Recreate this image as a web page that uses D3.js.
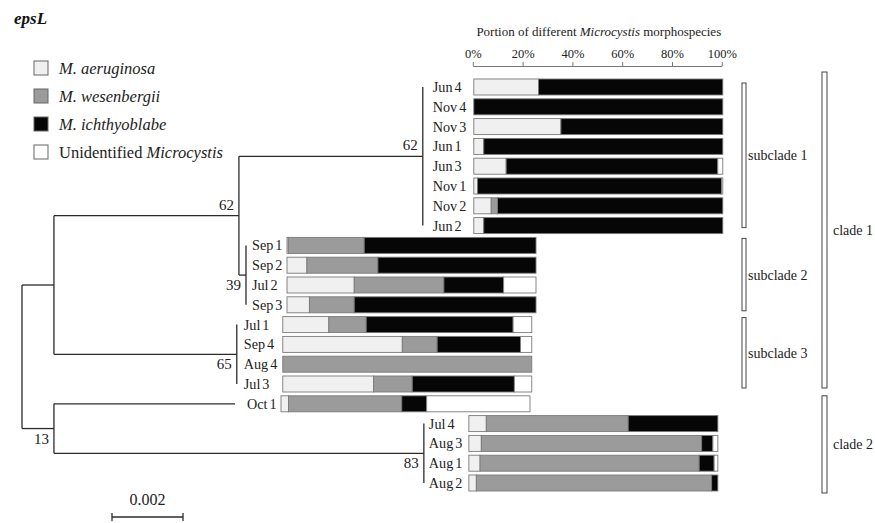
<!DOCTYPE html>
<html>
<head>
<meta charset="utf-8">
<script src="https://cdn.jsdelivr.net/npm/d3@7"></script>
<style>
body { margin: 0; background: #fff; }
svg { font-family: "Liberation Serif", "Times New Roman", serif; }
</style>
</head>
<body>
<svg id="chart" width="875" height="523"></svg>
<script>
// leaf order, top to bottom
var leaves = ['Jun 4','Nov 4','Nov 3','Jun 1','Jun 3','Nov 1','Nov 2','Jun 2',
	'Sep 1','Sep 2','Jul 2','Sep 3',
	'Jul 1','Sep 4','Aug 4','Jul 3',
	'Oct 1',
	'Jul 4','Aug 3','Aug 1','Aug 2'];

// portion (%) of each morphospecies per sample
var aeruginosa   = [26, 0, 35, 4, 13, 1.5, 7, 4,   0.5, 8, 27, 9,   18.5, 48, 0, 36.5,  3,   7, 5, 4.5, 3];
var wesenbergii  = [0, 0, 0, 0, 0, 0, 2.5, 0,      30.5, 28.5, 36, 18,  15, 14, 100, 15.5,  45.5,  57, 88.5, 88, 94.5];
var ichthyoblabe = [74, 100, 65, 96, 85, 98, 90.5, 96,  69, 63.5, 24, 73,  59, 33.5, 0, 41,  10,  36, 4.5, 6, 2.5];
var unidentified = [0, 0, 0, 0, 2, 0.5, 0, 0,      0, 0, 13, 0,   7.5, 4.5, 0, 7,  41.5,  0, 2, 1.5, 0];

var speciesNames = ['M. aeruginosa', 'M. wesenbergii', 'M. ichthyoblabe', 'Unidentified Microcystis'];
var speciesColors = ['#f0f0f0', '#9b9b9b', '#060606', '#ffffff'];
var percentTicks = [0, 20, 40, 60, 80, 100];

// branch lengths (substitutions/site) and bootstrap support
function tips(a, b) {
	return leaves.slice(a, b).map(function(n) { return {name: n, len: 0}; });
}
var tree = {len: 0, children: [
	{len: 0.0009, children: [
		{len: 0.00521, support: 62, labelPos: 'above', children: [
			{len: 0.00518, support: 62, labelPos: 'above', children: tips(0, 8)},
			{len: 0.0002, support: 39, children: tips(8, 12)}
		]},
		{len: 0.00515, support: 65, children: tips(12, 16)}
	]},
	{len: 0.0009, support: 13, children: [
		{len: 0.0051, name: 'Oct 1'},
		{len: 0.01042, support: 83, children: tips(17, 21)}
	]}
]};

// label / bar offsets from the node line, per group (px)
var groupGaps = {
	'Jun 4': {label: 10, bar: 51},
	'Sep 1': {label: 6, bar: 41},
	'Jul 1': {label: 7, bar: 46},
	'Oct 1': {label: 12, bar: 46},
	'Jul 4': {label: 5, bar: 45}
};

var brackets = [
	{name: 'subclade 1', first: 'Jun 4', last: 'Jun 2', x: 742, w: 4, tx: 748, padTop: 4, padBot: 2},
	{name: 'subclade 2', first: 'Sep 1', last: 'Sep 3', x: 742, w: 4, tx: 748, padTop: 7, padBot: 6},
	{name: 'subclade 3', first: 'Jul 1', last: 'Jul 3', x: 742, w: 4, tx: 748, padTop: 7, padBot: 4},
	{name: 'clade 1', first: 'Jun 4', last: 'Jul 3', x: 822, w: 5, tx: 833, padTop: 15, padBot: 4},
	{name: 'clade 2', first: 'Oct 1', last: 'Aug 2', x: 822, w: 5, tx: 833, padTop: 8, padBot: 10}
];

var svg = d3.select('#chart');
var lineColor = '#2b2b2b';

var y = d3.scalePoint().domain(leaves).range([87, 483]);
var xTree = d3.scaleLinear().domain([0, 0.002]).range([0, 71]);
var treeLeft = 22;
var xPct = d3.scaleLinear().domain([0, 100]).range([0, 249]);
var barH = 16;

// ---- tree layout
var root = d3.hierarchy(tree);
root.eachBefore(function(d) {
	d.dist = d.parent ? d.parent.dist + d.data.len : 0;
	d.px = treeLeft + xTree(d.dist);
});
root.eachAfter(function(d) {
	if (d.children) {
		d.py = (d.children[0].py + d.children[d.children.length - 1].py) / 2;
	} else {
		d.py = y(d.data.name);
	}
});

var gTree = svg.append('g').attr('stroke', lineColor).attr('stroke-width', 1.3).attr('fill', 'none');
root.descendants().forEach(function(d) {
	if (d.parent && d.data.len > 0) {
		gTree.append('line').attr('x1', d.parent.px).attr('x2', d.px).attr('y1', d.py).attr('y2', d.py);
	}
	if (d.children) {
		gTree.append('line').attr('x1', d.px).attr('x2', d.px)
			.attr('y1', d.children[0].py).attr('y2', d.children[d.children.length - 1].py);
	}
});

// bootstrap values
svg.append('g').selectAll('text')
	.data(root.descendants().filter(function(d) { return d.data.support; }))
	.enter().append('text')
	.attr('x', function(d) { return d.px - 5; })
	.attr('y', function(d) { return d.data.labelPos === 'above' ? d.py - 6 : d.py + 15; })
	.attr('text-anchor', 'end')
	.attr('font-size', 15)
	.attr('fill', '#222')
	.text(function(d) { return d.data.support; });

// ---- leaf labels and bars, grouped per polytomy
var groups = d3.group(root.leaves(), function(d) { return d.data.len > 0 ? d : d.parent; });
var gLeaf = svg.append('g');
var barStart = {};
groups.forEach(function(members, key) {
	var gap = groupGaps[members[0].data.name];
	members.forEach(function(m) {
		gLeaf.append('text')
			.attr('x', key.px + gap.label).attr('y', m.py + 5)
			.attr('font-size', 14.2).attr('word-spacing', -1.5).attr('fill', '#222')
			.text(m.data.name);
		barStart[m.data.name] = key.px + gap.bar;
	});
});

var stack = d3.stack().keys([0, 1, 2, 3]).value(function(i, k) {
	return [aeruginosa, wesenbergii, ichthyoblabe, unidentified][k][i];
});
var series = stack(d3.range(leaves.length));
var gBars = svg.append('g');
series.forEach(function(s, k) {
	gBars.selectAll(null).data(s).enter().filter(function(d) { return d[1] - d[0] > 0; })
		.append('rect')
		.attr('x', function(d) { return barStart[leaves[d.data]] + xPct(d[0]); })
		.attr('y', function(d) { return y(leaves[d.data]) - barH / 2; })
		.attr('width', function(d) { return xPct(d[1]) - xPct(d[0]); })
		.attr('height', barH)
		.attr('fill', speciesColors[k])
		.attr('stroke', '#7a7a7a')
		.attr('stroke-width', 0.9);
});

// ---- top percentage axis
var axisX = barStart['Jun 4'] - 1;
var gAxis = svg.append('g').attr('transform', 'translate(' + axisX + ',66)')
	.call(d3.axisTop(xPct).tickValues(percentTicks).tickSize(4).tickSizeOuter(0)
		.tickFormat(function(d) { return d + '%'; }));
gAxis.select('.domain').attr('stroke', '#777');
gAxis.selectAll('.tick line').attr('stroke', '#777');
gAxis.selectAll('.tick text').attr('font-family', '"Liberation Serif", serif')
	.attr('font-size', 12.5).attr('fill', '#222').attr('dy', '-0.1em');

var title = svg.append('text').attr('x', axisX + 126).attr('y', 36)
	.attr('text-anchor', 'middle').attr('font-size', 13).attr('fill', '#222');
title.append('tspan').text('Portion of different ');
title.append('tspan').attr('font-style', 'italic').text('Microcystis');
title.append('tspan').text(' morphospecies');

// ---- clade brackets
var gBr = svg.append('g');
brackets.forEach(function(b) {
	var y0 = y(b.first) - b.padTop, y1 = y(b.last) + b.padBot;
	gBr.append('rect').attr('x', b.x).attr('y', y0).attr('width', b.w).attr('height', y1 - y0)
		.attr('fill', '#fff').attr('stroke', '#444').attr('stroke-width', 1);
	gBr.append('text').attr('x', b.tx).attr('y', (y0 + y1) / 2 + 5)
		.attr('font-size', 14).attr('fill', '#222').text(b.name);
});

// ---- legend
var gLeg = svg.append('g');
speciesNames.forEach(function(name, i) {
	var cy = 68 + i * 28;
	gLeg.append('rect').attr('x', 34).attr('y', cy - 7).attr('width', 14).attr('height', 14)
		.attr('fill', speciesColors[i]).attr('stroke', '#666').attr('stroke-width', 1);
	var t = gLeg.append('text').attr('x', 59).attr('y', cy + 5.5).attr('font-size', 16.5).attr('fill', '#222');
	if (name.indexOf('Unidentified') === 0) {
		t.append('tspan').text('Unidentified ');
		t.append('tspan').attr('font-style', 'italic').text('Microcystis');
	} else {
		t.attr('font-style', 'italic').text(name);
	}
});

svg.append('text').attr('x', 14).attr('y', 24)
	.attr('font-size', 17).attr('font-weight', 'bold').attr('font-style', 'italic')
	.attr('fill', '#111').text('epsL');

// ---- scale bar
var sb = svg.append('g').attr('transform', 'translate(112,517)')
	.attr('stroke', lineColor).attr('stroke-width', 1.3);
sb.append('line').attr('x1', 0).attr('x2', xTree(0.002));
sb.append('line').attr('y1', -4).attr('y2', 4);
sb.append('line').attr('x1', xTree(0.002)).attr('x2', xTree(0.002)).attr('y1', -4).attr('y2', 4);
svg.append('text').attr('x', 112 + xTree(0.002) / 2).attr('y', 505)
	.attr('text-anchor', 'middle').attr('font-size', 16).attr('fill', '#222').text('0.002');
</script>
</body>
</html>
